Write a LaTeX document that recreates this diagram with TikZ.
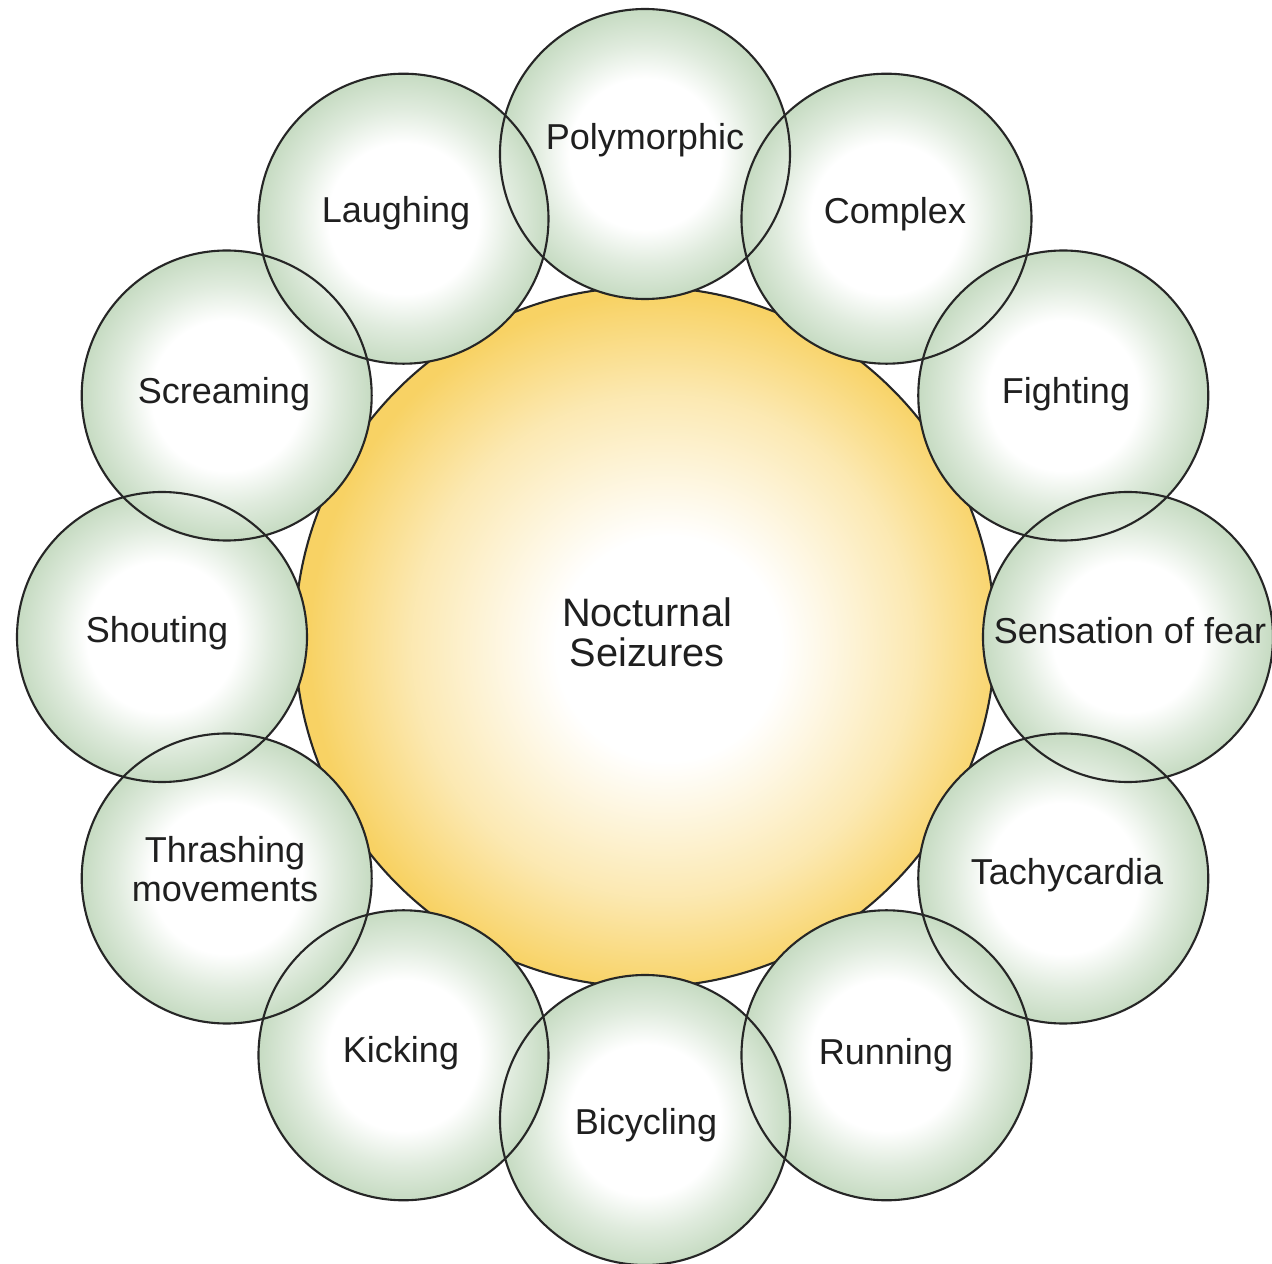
\documentclass[tikz,border=0pt]{standalone}
\usepackage{fontspec}
\setmainfont{Liberation Sans}
\usepackage{xcolor}
\usepackage{tikz}

\definecolor{bubblegreen}{RGB}{198,219,194}
\definecolor{sunyellow}{RGB}{248,210,100}
\pgfdeclareradialshading{bubbleshade}{\pgfpointorigin}{color(0bp)=(white); color(13bp)=(white); color(19bp)=(bubblegreen!55!white); color(25bp)=(bubblegreen); color(50bp)=(bubblegreen)}
\pgfdeclareradialshading{sunshade}{\pgfpoint{2bp}{-1bp}}{color(0bp)=(white); color(8bp)=(white); color(18bp)=(sunyellow!50!white); color(25bp)=(sunyellow); color(50bp)=(sunyellow)}

\tikzset{
  bubble/.style={shading=bubbleshade},
  rim/.style={draw=black!85,line width=0.6pt},
  tag/.style={font=\fontsize{10.25}{11.1}\selectfont,text=black!88,inner sep=0pt,align=center},
  hubtag/.style={font=\fontsize{11.3}{11.4}\selectfont,text=black!88,inner sep=0pt,align=center}
}

\begin{document}
\begin{tikzpicture}
  \fill[white] (-6.45,-6.27) rectangle (6.27,6.37);
  \useasboundingbox (-6.45,-6.27) rectangle (6.27,6.37);

  % centres
  \coordinate (hub) at (0,0);
  \coordinate (poly) at (90:4.83);
  \coordinate (cplx) at (60:4.83);
  \coordinate (figh) at (30:4.83);
  \coordinate (fear) at (0:4.83);
  \coordinate (tach) at (-30:4.83);
  \coordinate (runn) at (-60:4.83);
  \coordinate (bicy) at (-90:4.83);
  \coordinate (kick) at (-120:4.83);
  \coordinate (thra) at (-150:4.83);
  \coordinate (shou) at (180:4.83);
  \coordinate (scre) at (150:4.83);
  \coordinate (laug) at (120:4.83);

  % central circle
  \shade[shading=sunshade] (hub) circle (3.5);
  \draw[rim] (hub) circle (3.5);

  % bubbles
  \shade[bubble] (poly) circle (1.45);
  \shade[bubble] (cplx) circle (1.45);
  \shade[bubble] (figh) circle (1.45);
  \shade[bubble] (fear) circle (1.45);
  \shade[bubble] (tach) circle (1.45);
  \shade[bubble] (runn) circle (1.45);
  \shade[bubble] (bicy) circle (1.45);
  \shade[bubble] (kick) circle (1.45);
  \shade[bubble] (thra) circle (1.45);
  \shade[bubble] (shou) circle (1.45);
  \shade[bubble] (scre) circle (1.45);
  \shade[bubble] (laug) circle (1.45);

  \draw[rim] (poly) circle (1.45);
  \draw[rim] (cplx) circle (1.45);
  \draw[rim] (figh) circle (1.45);
  \draw[rim] (fear) circle (1.45);
  \draw[rim] (tach) circle (1.45);
  \draw[rim] (runn) circle (1.45);
  \draw[rim] (bicy) circle (1.45);
  \draw[rim] (kick) circle (1.45);
  \draw[rim] (thra) circle (1.45);
  \draw[rim] (shou) circle (1.45);
  \draw[rim] (scre) circle (1.45);
  \draw[rim] (laug) circle (1.45);

  % labels
  \node[hubtag] (lhub) at (0.02,0.045) {Nocturnal\\Seizures};
  \node[tag,anchor=base] (lpoly) at (0,4.87) {Polymorphic};
  \node[tag,anchor=base] (lcplx) at (2.5,4.13) {Complex};
  \node[tag,anchor=base] (lfigh) at (4.21,2.33) {Fighting};
  \node[tag,anchor=base] (lfear) at (4.85,-0.07) {Sensation of fear};
  \node[tag,anchor=base] (ltach) at (4.22,-2.48) {Tachycardia};
  \node[tag,anchor=base] (lrunn) at (2.41,-4.27) {Running};
  \node[tag,anchor=base] (lbicy) at (0.01,-4.97) {Bicycling};
  \node[tag,anchor=base] (lkick) at (-2.44,-4.26) {Kicking};
  \node[tag] (lthra) at (-4.2,-2.325) {Thrashing\\movements};
  \node[tag,anchor=base] (lshou) at (-4.88,-0.06) {Shouting};
  \node[tag,anchor=base] (lscre) at (-4.21,2.33) {Screaming};
  \node[tag,anchor=base] (llaug) at (-2.49,4.14) {Laughing};
\end{tikzpicture}
\end{document}
